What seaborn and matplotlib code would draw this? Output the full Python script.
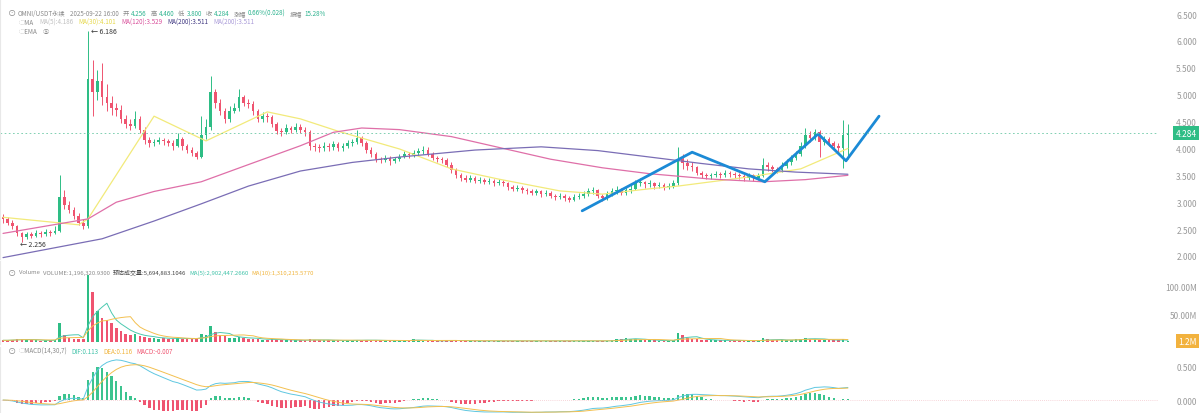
import numpy as np
import pandas as pd
import matplotlib
matplotlib.use("Agg")
import matplotlib.pyplot as plt
import matplotlib.transforms as mtransforms
import seaborn as sns

# ── data ─────────────────────────────────────
first_open = 2.72
closes = [
    2.68, 2.62, 2.55, 2.42, 2.36, 2.40, 2.38, 2.43, 2.40, 2.45,
    2.42, 2.46, 3.10, 2.95, 2.85, 2.75, 2.62, 2.55, 5.30, 5.05,
    5.25, 4.95, 4.85, 4.75, 4.72, 4.55, 4.45, 4.42, 4.55, 4.35,
    4.15, 4.10, 4.12, 4.15, 4.13, 4.10, 4.05, 4.18, 4.05, 3.98,
    3.92, 3.85, 4.25, 4.40, 5.05, 4.85, 4.70, 4.55, 4.70, 4.75,
    4.95, 4.85, 4.82, 4.70, 4.55, 4.60, 4.58, 4.45, 4.32, 4.30,
    4.38, 4.35, 4.40, 4.35, 4.30, 4.05, 4.02, 4.00, 4.05, 4.02,
    4.08, 4.00, 4.05, 4.10, 4.12, 4.20, 4.10, 3.98, 3.90, 3.80,
    3.78, 3.82, 3.76, 3.80, 3.85, 3.90, 3.88, 3.92, 3.95, 3.98,
    3.90, 3.82, 3.80, 3.78, 3.70, 3.60, 3.50, 3.45, 3.42, 3.45,
    3.40, 3.42, 3.38, 3.40, 3.36, 3.38, 3.35, 3.28, 3.25, 3.27,
    3.22, 3.20, 3.18, 3.20, 3.15, 3.18, 3.12, 3.10, 3.12, 3.08,
    3.05, 3.10, 3.12, 3.15, 3.20, 3.22, 3.12, 3.08, 3.15, 3.20,
    3.22, 3.18, 3.22, 3.25, 3.35, 3.38, 3.33, 3.35, 3.30, 3.32,
    3.28, 3.30, 3.35, 3.80, 3.72, 3.68, 3.65, 3.55, 3.50, 3.48,
    3.50, 3.52, 3.50, 3.55, 3.52, 3.50, 3.48, 3.45, 3.50, 3.45,
    3.48, 3.70, 3.65, 3.62, 3.60, 3.68, 3.75, 3.82, 3.90, 4.05,
    4.25, 4.20, 4.30, 4.12, 4.18, 4.10, 4.05, 4.00, 4.256, 4.284,
]
highs = [
    2.78, 2.72, 2.66, 2.58, 2.45, 2.44, 2.45, 2.48, 2.46, 2.50,
    2.48, 2.55, 3.50, 3.22, 3.02, 2.92, 2.80, 2.68, 6.186, 5.65,
    5.45, 5.59, 5.20, 4.98, 4.85, 4.80, 4.62, 4.55, 4.70, 4.60,
    4.40, 4.22, 4.18, 4.22, 4.20, 4.18, 4.15, 4.28, 4.22, 4.08,
    4.02, 3.96, 4.60, 4.55, 5.35, 5.10, 4.92, 4.75, 4.78, 4.85,
    5.10, 5.00, 4.92, 4.88, 4.74, 4.68, 4.66, 4.62, 4.50, 4.38,
    4.45, 4.42, 4.48, 4.45, 4.40, 4.34, 4.10, 4.08, 4.12, 4.10,
    4.14, 4.12, 4.10, 4.16, 4.18, 4.35, 4.24, 4.14, 4.02, 3.94,
    3.85, 3.88, 3.86, 3.85, 3.90, 3.95, 3.94, 3.97, 4.00, 4.05,
    4.02, 3.94, 3.86, 3.84, 3.82, 3.74, 3.64, 3.55, 3.50, 3.50,
    3.48, 3.47, 3.45, 3.45, 3.44, 3.43, 3.42, 3.38, 3.32, 3.32,
    3.30, 3.26, 3.24, 3.25, 3.23, 3.22, 3.21, 3.16, 3.17, 3.15,
    3.12, 3.15, 3.18, 3.20, 3.26, 3.28, 3.25, 3.15, 3.20, 3.26,
    3.30, 3.26, 3.28, 3.32, 3.42, 3.45, 3.40, 3.42, 3.38, 3.38,
    3.35, 3.36, 3.42, 4.02, 3.90, 3.80, 3.74, 3.68, 3.58, 3.55,
    3.55, 3.58, 3.56, 3.60, 3.58, 3.56, 3.54, 3.52, 3.55, 3.53,
    3.54, 3.82, 3.75, 3.70, 3.66, 3.74, 3.80, 3.88, 3.96, 4.12,
    4.38, 4.32, 4.36, 4.34, 4.24, 4.22, 4.14, 4.10, 4.52, 4.46,
]
lows = [
    2.62, 2.58, 2.50, 2.38, 2.256, 2.32, 2.33, 2.35, 2.36, 2.38,
    2.38, 2.40, 2.44, 2.88, 2.80, 2.68, 2.58, 2.50, 2.52, 4.60,
    4.90, 4.80, 4.70, 4.62, 4.60, 4.48, 4.38, 4.35, 4.38, 4.28,
    4.08, 4.02, 4.05, 4.08, 4.07, 4.04, 3.98, 4.02, 3.98, 3.92,
    3.86, 3.80, 3.82, 4.18, 4.35, 4.75, 4.62, 4.48, 4.50, 4.65,
    4.70, 4.78, 4.75, 4.62, 4.50, 4.50, 4.50, 4.40, 4.26, 4.24,
    4.26, 4.28, 4.30, 4.28, 4.24, 3.98, 3.95, 3.94, 3.96, 3.96,
    3.98, 3.95, 3.96, 4.00, 4.05, 4.08, 4.05, 3.92, 3.85, 3.74,
    3.72, 3.74, 3.70, 3.72, 3.76, 3.82, 3.83, 3.85, 3.88, 3.90,
    3.86, 3.78, 3.75, 3.72, 3.65, 3.55, 3.45, 3.40, 3.37, 3.38,
    3.35, 3.36, 3.33, 3.34, 3.31, 3.32, 3.30, 3.23, 3.20, 3.21,
    3.17, 3.15, 3.13, 3.14, 3.10, 3.11, 3.07, 3.05, 3.06, 3.03,
    3.00, 3.02, 3.06, 3.08, 3.12, 3.15, 3.08, 3.02, 3.05, 3.12,
    3.15, 3.13, 3.14, 3.18, 3.22, 3.30, 3.27, 3.28, 3.25, 3.26,
    3.22, 3.24, 3.27, 3.32, 3.62, 3.60, 3.58, 3.50, 3.45, 3.43,
    3.44, 3.46, 3.45, 3.47, 3.47, 3.45, 3.43, 3.40, 3.42, 3.40,
    3.42, 3.46, 3.58, 3.56, 3.54, 3.57, 3.64, 3.70, 3.78, 3.86,
    4.00, 4.12, 4.15, 3.85, 4.06, 4.04, 3.98, 3.92, 3.63, 3.80,
]
volumes_m = [
    3, 3, 4, 5, 6, 4, 3, 3, 2, 3,
    3, 4, 34, 12, 8, 6, 5, 6, 120, 89,
    55, 43, 40, 34, 25, 20, 15, 12, 14, 10,
    9, 8, 7, 6, 7, 6, 6, 8, 6, 5,
    5, 6, 15, 12, 28, 18, 12, 10, 8, 7,
    9, 7, 6, 6, 5, 4, 4, 5, 4, 4,
    3, 3, 3, 3, 3, 5, 4, 3, 3, 3,
    3, 3, 2, 3, 3, 4, 3, 3, 3, 3,
    3, 2, 2, 2, 3, 3, 2, 6, 3, 2,
    2, 2, 2, 2, 3, 3, 3, 2, 2, 2,
    2, 2, 2, 2, 2, 2, 2, 2, 2, 2,
    2, 2, 2, 2, 2, 2, 2, 2, 2, 2,
    2, 2, 2, 2, 2, 2, 2, 2, 2, 3,
    6, 5, 7, 5, 6, 4, 3, 3, 3, 2,
    2, 2, 3, 16, 12, 8, 6, 5, 4, 3,
    3, 3, 3, 3, 2, 3, 3, 2, 2, 2,
    2, 7, 5, 4, 3, 3, 3, 4, 5, 5,
    8, 6, 5, 4, 4, 3, 3, 3, 6, 1.2,
]

# moving averages (candle index, price)
ma30_idx = [0, 16, 18, 32, 43, 56, 63, 71, 84, 95, 105, 118, 127, 137, 143, 158, 169, 179]
ma30_val = [2.72, 2.58, 2.69, 4.60, 4.14, 4.68, 4.55, 4.32, 3.99, 3.62, 3.43, 3.21, 3.15, 3.25, 3.30, 3.47, 3.62, 4.00]
ma120_idx = [0, 18, 24, 32, 42, 52, 63, 70, 76, 84, 95, 105, 116, 127, 137, 150, 161, 170, 179]
ma120_val = [2.42, 2.69, 3.00, 3.20, 3.38, 3.70, 4.05, 4.30, 4.38, 4.35, 4.22, 4.02, 3.80, 3.64, 3.53, 3.43, 3.38, 3.42, 3.50]
ma200_idx = [0, 21, 32, 42, 52, 63, 74, 84, 100, 114, 126, 137, 148, 158, 168, 179]
ma200_val = [1.97, 2.32, 2.65, 2.97, 3.30, 3.58, 3.74, 3.84, 3.97, 4.03, 3.96, 3.84, 3.72, 3.62, 3.56, 3.52]

# hand-drawn trend path
trend_idx = [122.7, 146.0, 161.4, 172.7, 178.6, 185.6]
trend_val = [2.84, 3.93, 3.38, 4.27, 3.77, 4.60]

last_price = 4.284
last_volume_m = 1.2

price_ticks = [2.0, 2.5, 3.0, 3.5, 4.0, 4.5, 5.0, 5.5, 6.0, 6.5]
vol_ticks = [50, 100]
macd_ticks = [0.0, 0.5]

# ── derived ──────────────────────────────────
df = pd.DataFrame({"close": closes, "high": highs, "low": lows, "vol": volumes_m})
df["open"] = [first_open] + closes[:-1]
df["idx"] = np.arange(len(df))
up = df["close"] >= df["open"]
GREEN, RED = "#2ebd85", "#ef5470"
df["color"] = np.where(up, GREEN, RED)
df["vma5"] = df["vol"].rolling(5, min_periods=1).mean()
df["vma10"] = df["vol"].rolling(10, min_periods=1).mean()
ema_fast = df["close"].ewm(span=14, adjust=False).mean()
ema_slow = df["close"].ewm(span=30, adjust=False).mean()
df["dif"] = ema_fast - ema_slow
df["dea"] = df["dif"].ewm(span=7, adjust=False).mean()
df["hist"] = 2 * (df["dif"] - df["dea"])

# ── figure ───────────────────────────────────
sns.set_style("white")
plt.rcParams["font.family"] = ["Noto Sans CJK SC", "DejaVu Sans"]

W, H = 1200, 414
fig = plt.figure(figsize=(W / 100, H / 100), dpi=100)
right = 1158 / W
ax_p = fig.add_axes([0, (H - 260) / H, right, 260 / H])
ax_v = fig.add_axes([0, (H - 345) / H, right, 83 / H])
ax_m = fig.add_axes([0, 0, right, 66 / H])

XLIM = (-0.64, 244.7)
TICK_C = "#9a9a9a"

for ax in (ax_p, ax_v, ax_m):
    ax.set_xlim(*XLIM)
    for s in ax.spines.values():
        s.set_visible(False)
    ax.spines["left"].set_visible(True)
    ax.spines["left"].set_color("#e8e8e8")
    ax.set_xticks([])
    ax.yaxis.tick_right()
    ax.tick_params(axis="y", length=0, pad=28, labelsize=6, labelcolor=TICK_C)

# ── price panel ──────────────────────────────
ax_p.set_ylim(1.944, 6.779)
ax_p.vlines(df["idx"], df["low"], df["high"], colors=df["color"], lw=0.7)
body_lo = np.minimum(df["open"], df["close"])
body_h = np.maximum(np.abs(df["close"] - df["open"]), 0.008)
ax_p.bar(df["idx"], body_h, bottom=body_lo, width=0.55, color=df["color"], linewidth=0)

sns.lineplot(x=ma30_idx, y=ma30_val, ax=ax_p, color="#f2ea7a", lw=0.9, legend=False)
sns.lineplot(x=ma120_idx, y=ma120_val, ax=ax_p, color="#df6fa8", lw=0.9, legend=False)
sns.lineplot(x=ma200_idx, y=ma200_val, ax=ax_p, color="#7a6db5", lw=0.9, legend=False)
sns.lineplot(x=trend_idx, y=trend_val, ax=ax_p, color="#1b8ad6", lw=2.0, legend=False)

ax_p.axhline(last_price, color="#6cc9a6", lw=0.6, ls=(0, (2, 3)))
ax_p.set_yticks(price_ticks)
ax_p.set_yticklabels([f"{t:.3f}" for t in price_ticks])
for lab in ax_p.get_yticklabels():
    lab.set_ha("right")

tr_p = mtransforms.blended_transform_factory(ax_p.transAxes, ax_p.transData)
ax_p.text(1.0 + 39 / 1158, last_price, "4.284", transform=tr_p, ha="right", va="center",
          fontsize=6, color="white",
          bbox=dict(boxstyle="square,pad=0.3", fc=GREEN, ec="none"))

hi_i = int(np.argmax(df["high"]))
lo_i = int(np.argmin(df["low"]))
ax_p.text(hi_i + 0.6, df["high"][hi_i], "← 6.186", fontsize=5, color="#333333",
          va="center", ha="left")
ax_p.text(lo_i - 0.5, df["low"][lo_i] - 0.04, "← 2.256", fontsize=5, color="#333333",
          va="center", ha="left")

# ── volume panel ─────────────────────────────
ax_v.set_ylim(-3.6, 145)
ax_v.bar(df["idx"], df["vol"], width=0.55, color=df["color"], linewidth=0)
sns.lineplot(x=df["idx"], y=df["vma5"], ax=ax_v, color="#4cc9b0", lw=0.7, legend=False)
sns.lineplot(x=df["idx"], y=df["vma10"], ax=ax_v, color="#f3c04f", lw=0.7, legend=False)
ax_v.set_yticks(vol_ticks)
ax_v.set_yticklabels([f"{t:.2f}M" for t in vol_ticks])
for lab in ax_v.get_yticklabels():
    lab.set_ha("right")
tr_v = mtransforms.blended_transform_factory(ax_v.transAxes, ax_v.transData)
ax_v.text(1.0 + 39 / 1158, last_volume_m, "1.2M", transform=tr_v, ha="right", va="center",
          fontsize=6, color="white",
          bbox=dict(boxstyle="square,pad=0.3", fc="#f2b23e", ec="none"))

# ── MACD panel ───────────────────────────────
ax_m.set_ylim(-0.19, 0.78)
ax_m.bar(df["idx"], df["hist"], width=0.5,
         color=np.where(df["hist"] >= 0, "#3cc48f", "#ef5470"), linewidth=0)
sns.lineplot(x=df["idx"], y=df["dif"], ax=ax_m, color="#5fc7e0", lw=0.7, legend=False)
sns.lineplot(x=df["idx"], y=df["dea"], ax=ax_m, color="#f3c04f", lw=0.7, legend=False)
ax_m.axhline(0, color="#f0b0b8", lw=0.5, ls=(0, (1, 2)))
ax_m.set_yticks(macd_ticks)
ax_m.set_yticklabels([f"{t:.3f}" for t in macd_ticks])
for lab in ax_m.get_yticklabels():
    lab.set_ha("right")
for ax in (ax_p, ax_v, ax_m):
    ax.set_ylabel("")
    ax.set_xlabel("")

# ── header texts ─────────────────────────────
renderer = fig.canvas.get_renderer()


def row(x0, y, parts, size=4.5):
    """parts: (text, colour, gap in px before it)"""
    x = x0
    for s, c, gap in parts:
        x += gap
        t = fig.text(x / W, 1 - y / H, s, color=c, fontsize=size, va="center", ha="left")
        x += t.get_window_extent(renderer).width


TEAL, GRAY = "#2db38f", "#8a8a8a"
for y in (14, 273, 352):
    fig.text(8 / W, 1 - y / H, "⊙", color=GRAY, fontsize=6, va="center", ha="left")

row(18, 14, [("OMNI/USDT永续", GRAY, 0), ("2025-09-22 16:00", GRAY, 4),
             ("开", GRAY, 4), ("4.256", TEAL, 2), ("高", GRAY, 4), ("4.460", TEAL, 2),
             ("低", GRAY, 4), ("3.800", TEAL, 2), ("收", GRAY, 4), ("4.284", TEAL, 2),
             ("涨幅", GRAY, 4), ("0.66%(0.028)", TEAL, 2),
             ("振幅", GRAY, 4), ("15.28%", TEAL, 2)])
row(19, 23, [("◌MA", GRAY, 0), ("MA(5):4.186", "#c0c0c0", 5),
             ("MA(30):4.101", "#e6d84a", 5), ("MA(120):3.529", "#d94f9b", 5),
             ("MA(200):3.511", "#3d3580", 5), ("MA(200):3.511", "#a99ad8", 5)])
row(19, 32, [("◌EMA", GRAY, 0), ("⑤", GRAY, 5)])

row(19, 273, [("Volume", GRAY, 0), ("VOLUME:1,196,320.9300", GRAY, 3),
              ("预估成交量:5,694,883.1046", "#444444", 3),
              ("MA(5):2,902,447.2660", "#3fc2a8", 3),
              ("MA(10):1,310,215.5770", "#f0b43c", 3)], size=4.3)
row(19, 352, [("◌MACD(14,30,7)", GRAY, 0), ("DIF:0.113", "#3fc2a8", 4),
              ("DEA:0.116", "#f0b43c", 4), ("MACD:-0.007", "#ef5470", 4)])

fig.savefig("out.png", dpi=100)
